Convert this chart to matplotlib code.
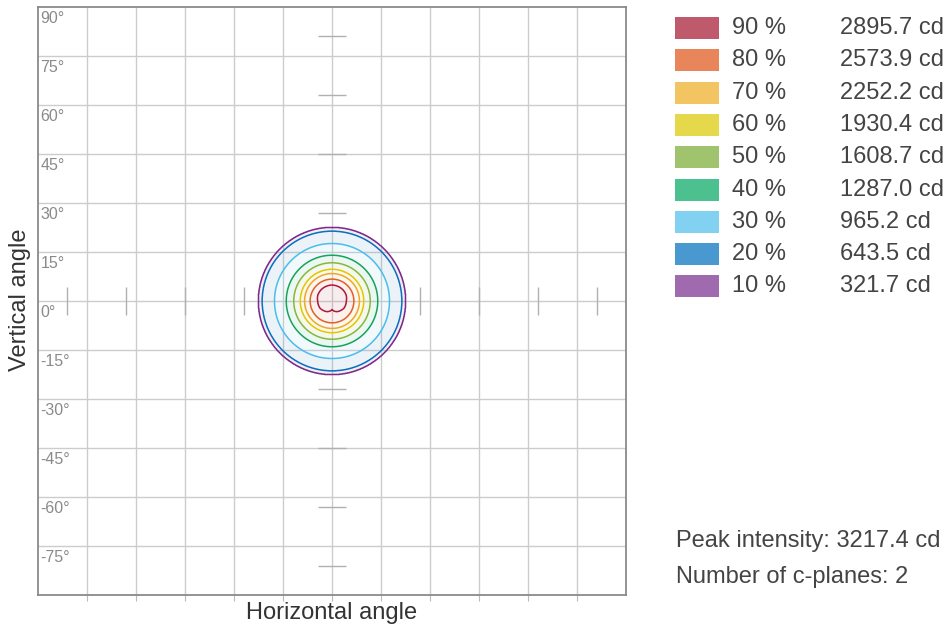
import numpy as np
import matplotlib
matplotlib.use("Agg")
import matplotlib.pyplot as plt
from matplotlib.patches import Rectangle

plt.rcParams['font.family'] = ['Liberation Sans', 'DejaVu Sans']

# ---------------- data ----------------
level_pct = [90, 80, 70, 60, 50, 40, 30, 20, 10]
level_cd = [2895.7, 2573.9, 2252.2, 1930.4, 1608.7, 1287.0, 965.2, 643.5, 321.7]
# radius (deg) of the 80 % ... 10 % iso-lines
outer_pct = [80, 70, 60, 50, 40, 30, 20, 10]
outer_radius = [6.7, 8.4, 9.7, 11.7, 14.0, 17.6, 21.4, 22.5]
# 90 % contour: radius per polar direction (deg)
dir90 = [0, 20, 45, 90, 135, 160, 180, 210, 230, 245, 260, 270, 280, 295, 310, 330]
rad90 = [4.4, 4.7, 4.8, 4.9, 4.8, 4.7, 4.4, 4.3, 3.9, 3.6, 3.1, 2.6, 3.1, 3.6, 3.9, 4.3]
peak_cd = 3217.4
c_planes = 2
y_ticks = [90, 75, 60, 45, 30, 15, 0, -15, -30, -45, -60, -75]
x_grid = [-75, -60, -45, -30, -15, 0, 15, 30, 45, 60, 75]
dash_deg = [-81, -63, -45, -27, 27, 45, 63, 81]

fill_colors = ['#BF5A6C', '#E8855A', '#F2C462', '#E5D84A', '#A0C46E',
               '#4CC18F', '#82D1F1', '#4A98D0', '#A06BAE']
line_colors = ['#B0183A', '#E2602A', '#F0A62A', '#E2C800', '#86B83E',
               '#17A35B', '#4CBDEB', '#0A6FC0', '#7D2B8B']

# ---------------- field ----------------
g = np.linspace(-90, 90, 1441)
X, Y = np.meshgrid(g, g)
R = np.hypot(X, Y)
TH = np.degrees(np.arctan2(Y, X)) % 360
r90 = np.interp(TH, dir90 + [360], rad90 + [rad90[0]])
r80 = outer_radius[0]
Z_in = 100 - 10 * R / r90
Z_mid = 90 - 10 * (R - r90) / (r80 - r90)
Z_out = np.interp(R, outer_radius + [90.0], outer_pct + [0.0])
Z = np.where(R < r90, Z_in, np.where(R < r80, Z_mid, Z_out))

# ---------------- figure ----------------
fig = plt.figure(figsize=(9.46, 6.28), dpi=100)
ax = fig.add_axes([38 / 946, (628 - 595) / 628, 588 / 946, 588 / 628])
ax.set_xlim(-90, 90)
ax.set_ylim(-90, 90)

for v in x_grid:
    ax.axvline(v, color='#cccccc', lw=1.0, zorder=1)
for v in y_ticks[1:]:
    ax.axhline(v, color='#cccccc', lw=1.0, zorder=1)

ax.hlines(dash_deg, -4.3, 4.3, color='#b0b0b0', lw=1.0, zorder=1.5)
ax.vlines(dash_deg, -4.3, 4.3, color='#b0b0b0', lw=1.0, zorder=1.5)

lv = sorted(level_pct)
ax.contourf(X, Y, Z, levels=lv + [101], colors=fill_colors[::-1], alpha=0.11, zorder=2)
ax.contour(X, Y, Z, levels=lv, colors=line_colors[::-1], linewidths=1.1, zorder=3)

for v in y_ticks:
    ax.text(-89.2, v - 1.3, f'{v}°', color='#8a8a8a', fontsize=11.5, va='top', ha='left', zorder=4)

ax.set_xticks(x_grid)
ax.set_yticks([])
ax.tick_params(axis='x', length=4, color='#bbbbbb', labelbottom=False, direction='out')
for s in ax.spines.values():
    s.set_color('#8a8a8a')
    s.set_linewidth(1.3)

fig.text(332 / 946, 1 - 613 / 628, 'Horizontal angle', ha='center', va='center', fontsize=17, color='#333333')
fig.text(20 / 946, 1 - 300 / 628, 'Vertical angle', ha='center', va='center', rotation=90, fontsize=17, color='#333333')

# legend
row0 = 28
dy = 32.3
for i, (p, cd) in enumerate(zip(level_pct, level_cd)):
    yc = row0 + i * dy
    fig.patches.append(Rectangle((675 / 946, 1 - (yc + 11) / 628), 44 / 946, 22 / 628,
                                 transform=fig.transFigure, facecolor=fill_colors[i], edgecolor='none'))
    fig.text(732 / 946, 1 - yc / 628, f'{p} %', ha='left', va='center', fontsize=17, color='#444444')
    fig.text(840 / 946, 1 - yc / 628, f'{cd:.1f} cd', ha='left', va='center', fontsize=17, color='#444444')

fig.text(676 / 946, 1 - 541 / 628, f'Peak intensity: {peak_cd} cd', ha='left', va='center', fontsize=17, color='#444444')
fig.text(676 / 946, 1 - 577 / 628, f'Number of c-planes: {c_planes}', ha='left', va='center', fontsize=17, color='#444444')

fig.savefig('out.png', dpi=100)
